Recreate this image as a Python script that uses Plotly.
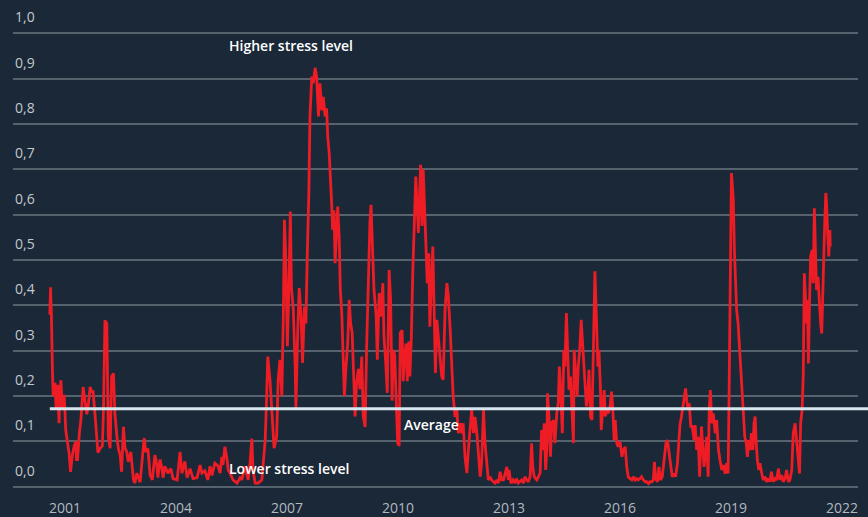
import plotly.graph_objects as go

# decimal-year positions of the readings
years_dec = [
    2000.59, 2000.60, 2000.61, 2000.62, 2000.63, 2000.66, 2000.68, 2000.73, 2000.76, 2000.80,
    2000.82, 2000.84, 2000.86, 2000.89, 2000.93, 2000.95, 2000.98, 2001.02, 2001.07, 2001.11,
    2001.15, 2001.20, 2001.25, 2001.29, 2001.31, 2001.34, 2001.39, 2001.43, 2001.49, 2001.54,
    2001.59, 2001.63, 2001.68, 2001.72, 2001.76, 2001.81, 2001.86, 2001.89, 2001.95, 2002.01,
    2002.04, 2002.06, 2002.08, 2002.13, 2002.15, 2002.17, 2002.22, 2002.24, 2002.26, 2002.31,
    2002.35, 2002.40, 2002.44, 2002.49, 2002.53, 2002.58, 2002.62, 2002.67, 2002.71, 2002.78,
    2002.85, 2002.89, 2002.94, 2003.03, 2003.09, 2003.14, 2003.18, 2003.24, 2003.30, 2003.36,
    2003.43, 2003.48, 2003.51, 2003.57, 2003.62, 2003.65, 2003.70, 2003.78, 2003.86, 2003.92,
    2004.03, 2004.11, 2004.16, 2004.24, 2004.30, 2004.38, 2004.46, 2004.57, 2004.65, 2004.70,
    2004.78, 2004.86, 2004.92, 2004.97, 2005.05, 2005.14, 2005.19, 2005.24, 2005.27, 2005.32,
    2005.38, 2005.41, 2005.46, 2005.54, 2005.65, 2005.73, 2005.78, 2005.86, 2005.95, 2006.00,
    2006.05, 2006.08, 2006.14, 2006.22, 2006.32, 2006.35, 2006.41, 2006.45, 2006.48, 2006.54,
    2006.60, 2006.65, 2006.72, 2006.76, 2006.81, 2006.86, 2006.90, 2006.93, 2006.96, 2007.01,
    2007.05, 2007.09, 2007.12, 2007.17, 2007.22, 2007.24, 2007.29, 2007.33, 2007.38, 2007.42,
    2007.47, 2007.51, 2007.55, 2007.59, 2007.62, 2007.67, 2007.71, 2007.76, 2007.80, 2007.85,
    2007.89, 2007.94, 2007.98, 2008.03, 2008.07, 2008.10, 2008.14, 2008.17, 2008.21, 2008.23,
    2008.27, 2008.30, 2008.33, 2008.37, 2008.41, 2008.44, 2008.48, 2008.51, 2008.55, 2008.59,
    2008.64, 2008.68, 2008.72, 2008.76, 2008.80, 2008.84, 2008.88, 2008.93, 2008.97, 2009.02,
    2009.06, 2009.11, 2009.15, 2009.20, 2009.24, 2009.27, 2009.32, 2009.35, 2009.41, 2009.44,
    2009.49, 2009.53, 2009.59, 2009.62, 2009.67, 2009.71, 2009.76, 2009.80, 2009.84, 2009.87,
    2009.91, 2009.95, 2009.99, 2010.03, 2010.06, 2010.11, 2010.14, 2010.18, 2010.22, 2010.25,
    2010.29, 2010.32, 2010.36, 2010.40, 2010.44, 2010.48, 2010.51, 2010.55, 2010.59, 2010.61,
    2010.65, 2010.68, 2010.72, 2010.76, 2010.79, 2010.83, 2010.86, 2010.90, 2010.94, 2010.97,
    2011.01, 2011.05, 2011.09, 2011.14, 2011.18, 2011.22, 2011.27, 2011.32, 2011.36, 2011.41,
    2011.45, 2011.49, 2011.54, 2011.59, 2011.63, 2011.68, 2011.72, 2011.76, 2011.81, 2011.86,
    2011.90, 2011.95, 2011.99, 2012.04, 2012.08, 2012.13, 2012.17, 2012.22, 2012.26, 2012.31,
    2012.35, 2012.40, 2012.44, 2012.49, 2012.53, 2012.58, 2012.62, 2012.67, 2012.71, 2012.76,
    2012.80, 2012.85, 2012.89, 2012.94, 2012.98, 2013.00, 2013.05, 2013.11, 2013.16, 2013.20,
    2013.25, 2013.34, 2013.39, 2013.43, 2013.48, 2013.52, 2013.57, 2013.61, 2013.64, 2013.68,
    2013.75, 2013.79, 2013.84, 2013.88, 2013.93, 2013.95, 2013.99, 2014.02, 2014.04, 2014.08,
    2014.12, 2014.15, 2014.20, 2014.24, 2014.29, 2014.33, 2014.36, 2014.40, 2014.44, 2014.48,
    2014.51, 2014.55, 2014.59, 2014.62, 2014.66, 2014.69, 2014.74, 2014.76, 2014.80, 2014.84,
    2014.87, 2014.91, 2014.95, 2014.98, 2015.02, 2015.05, 2015.09, 2015.13, 2015.16, 2015.20,
    2015.24, 2015.27, 2015.30, 2015.32, 2015.36, 2015.40, 2015.43, 2015.47, 2015.49, 2015.53,
    2015.57, 2015.60, 2015.64, 2015.68, 2015.73, 2015.77, 2015.80, 2015.84, 2015.87, 2015.91,
    2015.95, 2016.00, 2016.05, 2016.09, 2016.14, 2016.18, 2016.22, 2016.27, 2016.32, 2016.36,
    2016.41, 2016.45, 2016.49, 2016.54, 2016.58, 2016.63, 2016.68, 2016.72, 2016.77, 2016.81,
    2016.86, 2016.90, 2016.93, 2016.96, 2017.01, 2017.05, 2017.09, 2017.14, 2017.18, 2017.24,
    2017.28, 2017.32, 2017.37, 2017.41, 2017.46, 2017.50, 2017.55, 2017.59, 2017.62, 2017.66,
    2017.69, 2017.73, 2017.77, 2017.80, 2017.84, 2017.87, 2017.91, 2017.95, 2018.00, 2018.03,
    2018.07, 2018.11, 2018.15, 2018.20, 2018.24, 2018.27, 2018.31, 2018.34, 2018.38, 2018.41,
    2018.44, 2018.48, 2018.52, 2018.57, 2018.61, 2018.66, 2018.70, 2018.75, 2018.79, 2018.84,
    2018.88, 2018.92, 2018.95, 2018.98, 2019.01, 2019.03, 2019.06, 2019.09, 2019.12, 2019.15,
    2019.19, 2019.22, 2019.26, 2019.30, 2019.33, 2019.37, 2019.41, 2019.44, 2019.48, 2019.51,
    2019.55, 2019.59, 2019.62, 2019.65, 2019.68, 2019.71, 2019.75, 2019.78, 2019.83, 2019.87,
    2019.92, 2019.96, 2020.01, 2020.05, 2020.09, 2020.14, 2020.19, 2020.23, 2020.28, 2020.32,
    2020.37, 2020.41, 2020.46, 2020.50, 2020.55, 2020.59, 2020.64, 2020.68, 2020.73, 2020.77,
    2020.82, 2020.85, 2020.88, 2020.92, 2020.95, 2020.98, 2021.01, 2021.03, 2021.06, 2021.09,
    2021.12, 2021.15, 2021.19, 2021.22, 2021.25, 2021.28, 2021.31, 2021.35, 2021.39, 2021.42,
    2021.45, 2021.47, 2021.50, 2021.53, 2021.56, 2021.58, 2021.61, 2021.64, 2021.67, 2021.68,
]

stress = [
    0.38, 0.43, 0.44, 0.41, 0.39, 0.26, 0.20, 0.229, 0.17, 0.225,
    0.17, 0.14, 0.20, 0.235, 0.17, 0.20, 0.20, 0.125, 0.096, 0.075,
    0.033, 0.07, 0.09, 0.10, 0.06, 0.06, 0.12, 0.147, 0.22, 0.19,
    0.16, 0.18, 0.22, 0.21, 0.21, 0.16, 0.09, 0.075, 0.085, 0.09,
    0.17, 0.30, 0.367, 0.36, 0.25, 0.11, 0.085, 0.20, 0.243, 0.25,
    0.16, 0.113, 0.085, 0.07, 0.033, 0.132, 0.085, 0.077, 0.055, 0.077,
    0.015, 0.008, 0.03, 0.01, 0.07, 0.107, 0.077, 0.084, 0.026, 0.015,
    0.07, 0.05, 0.02, 0.06, 0.04, 0.02, 0.045, 0.03, 0.04, 0.018,
    0.015, 0.077, 0.03, 0.056, 0.02, 0.04, 0.018, 0.02, 0.048, 0.03,
    0.035, 0.015, 0.045, 0.025, 0.052, 0.045, 0.03, 0.066, 0.048, 0.088,
    0.06, 0.037, 0.03, 0.015, 0.008, 0.02, 0.015, 0.045, 0.015, 0.052,
    0.106, 0.037, 0.008, 0.008, 0.015, 0.04, 0.103, 0.20, 0.287, 0.235,
    0.155, 0.085, 0.11, 0.235, 0.28, 0.20, 0.375, 0.589, 0.52, 0.31,
    0.434, 0.607, 0.44, 0.39, 0.265, 0.173, 0.346, 0.438, 0.375, 0.273,
    0.397, 0.36, 0.52, 0.648, 0.817, 0.905, 0.89, 0.924, 0.905, 0.817,
    0.89, 0.83, 0.86, 0.817, 0.835, 0.773, 0.736, 0.693, 0.618, 0.567,
    0.61, 0.493, 0.55, 0.618, 0.55, 0.434, 0.383, 0.302, 0.20, 0.26,
    0.315, 0.412, 0.36, 0.34, 0.23, 0.155, 0.23, 0.26, 0.215, 0.287,
    0.155, 0.132, 0.302, 0.486, 0.582, 0.622, 0.52, 0.434, 0.375, 0.28,
    0.427, 0.375, 0.449, 0.331, 0.27, 0.207, 0.478, 0.41, 0.19, 0.302,
    0.29, 0.17, 0.096, 0.09, 0.339, 0.345, 0.233, 0.29, 0.316, 0.233,
    0.32, 0.243, 0.33, 0.478, 0.596, 0.684, 0.633, 0.56, 0.663, 0.71,
    0.575, 0.70, 0.611, 0.508, 0.449, 0.515, 0.353, 0.449, 0.53, 0.412,
    0.251, 0.368, 0.331, 0.29, 0.243, 0.236, 0.39, 0.449, 0.42, 0.345,
    0.272, 0.20, 0.154, 0.17, 0.118, 0.14, 0.118, 0.14, 0.066, 0.03,
    0.08, 0.14, 0.17, 0.118, 0.154, 0.118, 0.066, 0.022, 0.055, 0.17,
    0.096, 0.04, 0.015, 0.022, 0.015, 0.011, 0.008, 0.015, 0.008, 0.033,
    0.015, 0.015, 0.03, 0.044, 0.015, 0.037, 0.008, 0.015, 0.008, 0.018,
    0.008, 0.015, 0.008, 0.022, 0.015, 0.011, 0.022, 0.096, 0.044, 0.022,
    0.015, 0.022, 0.03, 0.125, 0.081, 0.14, 0.037, 0.081, 0.206, 0.155,
    0.066, 0.14, 0.147, 0.096, 0.162, 0.184, 0.265, 0.206, 0.118, 0.302,
    0.265, 0.383, 0.28, 0.214, 0.243, 0.19, 0.096, 0.302, 0.25, 0.199,
    0.265, 0.302, 0.368, 0.324, 0.28, 0.214, 0.177, 0.206, 0.258, 0.155,
    0.147, 0.265, 0.412, 0.475, 0.375, 0.265, 0.302, 0.214, 0.125, 0.162,
    0.213, 0.155, 0.17, 0.162, 0.177, 0.21, 0.177, 0.103, 0.147, 0.096,
    0.088, 0.10, 0.066, 0.081, 0.088, 0.044, 0.022, 0.018, 0.015, 0.022,
    0.015, 0.018, 0.015, 0.018, 0.022, 0.015, 0.011, 0.011, 0.007, 0.011,
    0.011, 0.015, 0.055, 0.018, 0.011, 0.044, 0.015, 0.022, 0.059, 0.096,
    0.103, 0.074, 0.037, 0.022, 0.029, 0.022, 0.052, 0.11, 0.138, 0.155,
    0.17, 0.191, 0.217, 0.191, 0.17, 0.184, 0.133, 0.133, 0.103, 0.136,
    0.081, 0.11, 0.022, 0.133, 0.066, 0.044, 0.074, 0.11, 0.022, 0.17,
    0.213, 0.14, 0.162, 0.118, 0.147, 0.081, 0.059, 0.037, 0.048, 0.029,
    0.052, 0.029, 0.228, 0.522, 0.692, 0.67, 0.633, 0.522, 0.434, 0.39,
    0.36, 0.316, 0.287, 0.228, 0.17, 0.11, 0.096, 0.066, 0.103, 0.081,
    0.118, 0.081, 0.14, 0.155, 0.096, 0.059, 0.037, 0.052, 0.029, 0.015,
    0.022, 0.011, 0.018, 0.011, 0.033, 0.011, 0.018, 0.015, 0.04, 0.015,
    0.026, 0.011, 0.018, 0.037, 0.011, 0.015, 0.037, 0.118, 0.14, 0.096,
    0.044, 0.029, 0.14, 0.17, 0.243, 0.471, 0.42, 0.36, 0.412, 0.272,
    0.405, 0.508, 0.522, 0.449, 0.614, 0.522, 0.434, 0.463, 0.39, 0.36,
    0.338, 0.419, 0.478, 0.581, 0.648, 0.625, 0.56, 0.508, 0.566, 0.53,
]

average_value = 0.172

tick_years = [2001, 2004, 2007, 2010, 2013, 2016, 2019, 2022]
tick_year_labels = [str(y) for y in tick_years]
y_ticks = [0.0, 0.1, 0.2, 0.3, 0.4, 0.5, 0.6, 0.7, 0.8, 0.9, 1.0]
y_tick_labels = ["0,0", "0,1", "0,2", "0,3", "0,4", "0,5", "0,6", "0,7", "0,8", "0,9", "1,0"]

annotations_text = ["Higher stress level", "Lower stress level", "Average"]
annotations_x = [2007.1, 2007.05, 2010.9]
annotations_y = [0.973, 0.041, 0.138]

BG = "#1a2838"
GRID = "#56636f"
RED = "#ee1c25"

X_RANGE = [1999.595, 2022.43]

fig = go.Figure()

fig.add_trace(go.Scatter(
    x=years_dec, y=stress, mode="lines",
    line=dict(color=RED, width=2.8),
    hoverinfo="skip", showlegend=False,
))

# average line: starts with the data, runs out past the plot's right edge
avg_start = (years_dec[0] - X_RANGE[0]) / (X_RANGE[1] - X_RANGE[0])
fig.add_shape(
    type="line", xref="paper", yref="y",
    x0=avg_start, x1=1.02, y0=average_value, y1=average_value,
    line=dict(color="#d6e6ee", width=3), layer="above",
)

# y tick labels sit above their grid lines, at the left edge
for v, lab in zip(y_ticks, y_tick_labels):
    fig.add_annotation(
        x=0, y=v, xref="paper", yref="y", text=lab, showarrow=False,
        xanchor="left", yanchor="bottom", xshift=0, yshift=5,
        font=dict(family="Open Sans", size=14, color="#c3c8cd"),
    )

for t, x, y in zip(annotations_text, annotations_x, annotations_y):
    fig.add_annotation(
        x=x, y=y, xref="x", yref="y", text=t, showarrow=False,
        font=dict(family="Open Sans", size=14, color="#ffffff", weight=600),
        xanchor="center", yanchor="middle",
    )

fig.update_layout(
    width=868, height=517,
    paper_bgcolor=BG, plot_bgcolor=BG,
    margin=dict(l=13, r=10, t=8, b=28, autoexpand=False),
    showlegend=False,
    xaxis=dict(
        range=X_RANGE,
        tickmode="array", tickvals=tick_years, ticktext=tick_year_labels,
        showgrid=False, zeroline=False, showline=False,
        ticks="outside", ticklen=6, tickcolor=BG,
        tickfont=dict(family="Open Sans", size=14, color="#b3b9bf"),
        automargin=False,
    ),
    yaxis=dict(
        range=[-0.005, 1.056],
        tickmode="array", tickvals=y_ticks,
        showticklabels=False,
        showgrid=True, gridcolor=GRID, gridwidth=1.5,
        zeroline=False, showline=False,
        automargin=False,
    ),
)

fig.write_html(
    "out.html",
    config={"displayModeBar": False},
    post_script="document.body.style.margin='0';document.body.style.background='#1a2838';",
)
